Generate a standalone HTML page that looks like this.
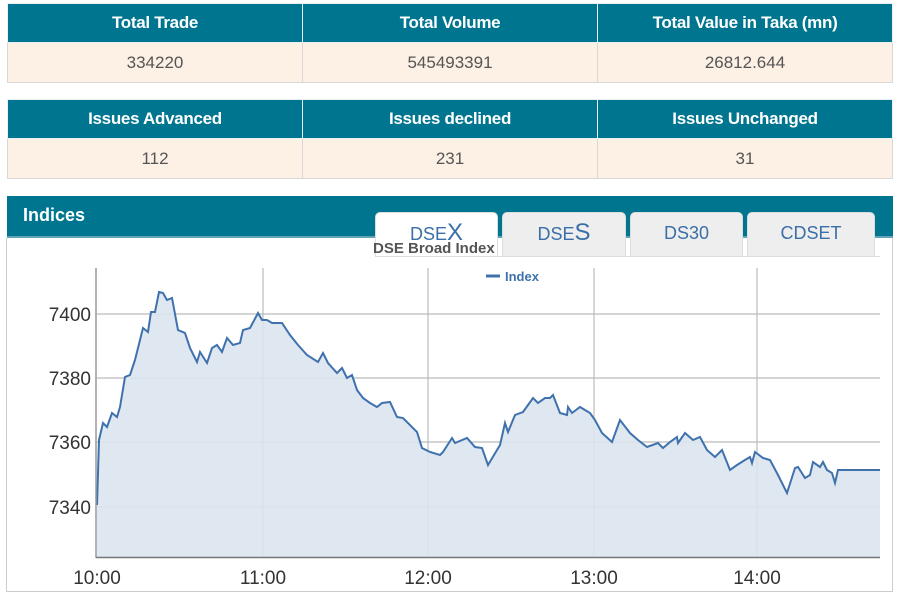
<!DOCTYPE html>
<html><head><meta charset="utf-8"><style>
body{margin:0;width:900px;height:600px;background:#fff;font-family:"Liberation Sans",Arial,sans-serif;position:relative;overflow:hidden}
.t{position:absolute;left:7px;width:886px;border-collapse:collapse}
.t td{border:1px solid #d8d8d8;text-align:center;width:33.3%}
.h td{background:#00758f;color:#fff;font-weight:bold;font-size:17px;height:36px;border-color:#e8f0f2;letter-spacing:-0.3px}
.v td{background:#fdf1e6;color:#555;font-size:17px;height:37px}
.tab{position:absolute;top:212px;height:44px;background:#eee;border:1px solid #ddd;border-bottom:none;border-radius:5px 5px 0 0;color:#3a6fa8;font-size:18px;text-align:center;line-height:40px;box-sizing:border-box}
</style></head><body>
<table class="t" style="top:3px"><tr class="h"><td>Total Trade</td><td>Total Volume</td><td>Total Value in Taka (mn)</td></tr><tr class="v"><td>334220</td><td>545493391</td><td>26812.644</td></tr></table>
<table class="t" style="top:99px"><tr class="h"><td>Issues Advanced</td><td>Issues declined</td><td>Issues Unchanged</td></tr><tr class="v"><td>112</td><td>231</td><td>31</td></tr></table>
<div style="position:absolute;left:7px;top:196px;width:886px;height:40px;background:#00758f"></div>
<div style="position:absolute;left:7px;top:236px;width:886px;height:2px;background:#5fa3b5"></div>
<div style="position:absolute;left:23px;top:205px;color:#fff;font-weight:bold;font-size:18px">Indices</div>
<div style="position:absolute;left:6px;top:238px;width:887px;height:354px;border:1px solid #ccc;border-top:none;box-sizing:border-box"></div>
<div class="tab" style="left:375px;width:123px;background:#fff">DSE<span style="font-size:24px">X</span></div>
<div class="tab" style="left:502px;width:124px">DSE<span style="font-size:24px">S</span></div>
<div class="tab" style="left:630px;width:113px">DS30</div>
<div class="tab" style="left:747px;width:128px">CDSET</div>
<div style="position:absolute;left:375px;top:256px;width:505px;height:1px;background:#ddd"></div>
<div style="position:absolute;left:373px;top:240px;color:#555;font-weight:bold;font-size:15px">DSE Broad Index</div>
<svg style="position:absolute;left:0;top:0" width="900" height="600">
<g stroke="#bbb" stroke-width="1.2">
<line x1="97" y1="314" x2="880" y2="314"/><line x1="97" y1="378" x2="880" y2="378"/><line x1="97" y1="442" x2="880" y2="442"/><line x1="97" y1="507" x2="880" y2="507"/>
<line x1="263" y1="268" x2="263" y2="557"/><line x1="428" y1="268" x2="428" y2="557"/><line x1="594" y1="268" x2="594" y2="557"/><line x1="757" y1="268" x2="757" y2="557"/>
</g>
<polygon fill="#dbe4ef" fill-opacity="0.9" points="97,557 97,505 99,440 103,423 107,427 112,413 117,417 120,407 125,377 130,375 135,360 143,328 148,332 151,312 155,312 159,292 163,293 167,300 172,298 178,330 185,333 190,348 197,362 200,352 207,363 212,348 217,345 222,352 227,338 233,345 240,343 243,330 250,328 258,313 262,320 267,320 272,323 282,323 290,335 298,345 307,355 318,362 323,353 328,363 337,373 342,368 347,378 352,375 357,390 363,398 370,403 377,407 382,403 390,402 397,417 403,418 417,432 422,448 430,452 440,455 443,452 452,438 455,443 467,438 475,447 482,448 488,465 500,445 505,423 508,432 515,415 523,412 533,398 538,403 545,398 550,398 553,395 560,413 567,415 568,407 572,413 580,407 590,413 595,420 602,433 612,442 620,420 630,433 638,440 647,447 658,443 663,448 670,442 677,437 678,443 685,433 693,440 700,437 707,450 715,457 722,450 730,470 737,465 745,460 750,457 752,463 755,452 763,458 770,460 778,475 787,493 795,468 798,467 805,478 810,475 813,462 820,467 823,462 827,470 832,473 835,483 838,470 880,470 880,557"/>
<polyline fill="none" stroke="#3f72ad" stroke-width="2" points="97,505 99,440 103,423 107,427 112,413 117,417 120,407 125,377 130,375 135,360 143,328 148,332 151,312 155,312 159,292 163,293 167,300 172,298 178,330 185,333 190,348 197,362 200,352 207,363 212,348 217,345 222,352 227,338 233,345 240,343 243,330 250,328 258,313 262,320 267,320 272,323 282,323 290,335 298,345 307,355 318,362 323,353 328,363 337,373 342,368 347,378 352,375 357,390 363,398 370,403 377,407 382,403 390,402 397,417 403,418 417,432 422,448 430,452 440,455 443,452 452,438 455,443 467,438 475,447 482,448 488,465 500,445 505,423 508,432 515,415 523,412 533,398 538,403 545,398 550,398 553,395 560,413 567,415 568,407 572,413 580,407 590,413 595,420 602,433 612,442 620,420 630,433 638,440 647,447 658,443 663,448 670,442 677,437 678,443 685,433 693,440 700,437 707,450 715,457 722,450 730,470 737,465 745,460 750,457 752,463 755,452 763,458 770,460 778,475 787,493 795,468 798,467 805,478 810,475 813,462 820,467 823,462 827,470 832,473 835,483 838,470 880,470"/>
<line x1="96" y1="268" x2="96" y2="558" stroke="#999" stroke-width="1.5"/>
<line x1="96" y1="557.5" x2="880" y2="557.5" stroke="#777" stroke-width="1.5"/>
<line x1="486" y1="276" x2="500" y2="276" stroke="#3f72ad" stroke-width="3"/>
<text x="505" y="281" font-size="13" font-weight="bold" fill="#3f72ad" font-family="Liberation Sans, sans-serif">Index</text>
<g font-size="19" fill="#333" font-family="Liberation Sans, sans-serif" text-anchor="end">
<text x="91" y="321">7400</text><text x="91" y="385">7380</text><text x="91" y="449">7360</text><text x="91" y="514">7340</text></g>
<g font-size="19" fill="#333" font-family="Liberation Sans, sans-serif" text-anchor="middle">
<text x="97" y="584">10:00</text><text x="263" y="584">11:00</text><text x="428" y="584">12:00</text><text x="594" y="584">13:00</text><text x="757" y="584">14:00</text></g>
</svg>
</body></html>
